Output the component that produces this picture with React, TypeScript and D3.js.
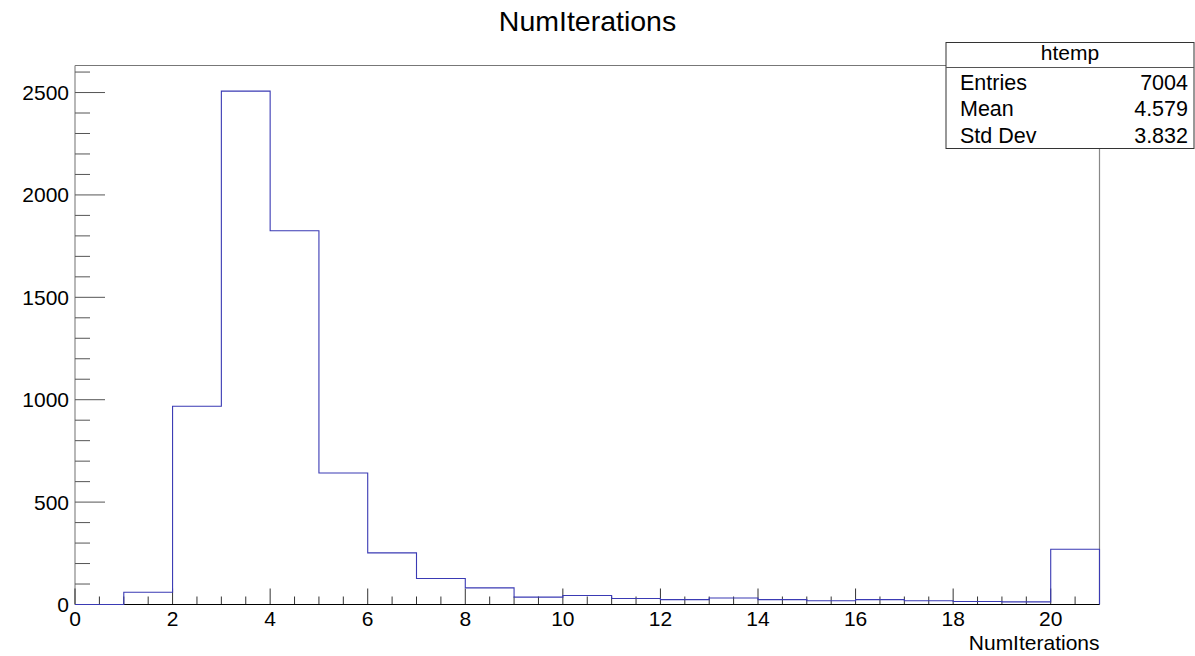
import React from "react";
import * as d3 from "d3";

const binEdges = [0, 1, 2, 3, 4, 5, 6, 7, 8, 9, 10, 11, 12, 13, 14, 15, 16, 17, 18, 19, 20, 21];
const binCounts = [0, 60, 968, 2507, 1825, 642, 252, 127, 81, 36, 44, 29, 24, 32, 24, 18, 24, 18, 15, 13, 270];
const xMajorTicks = [0, 2, 4, 6, 8, 10, 12, 14, 16, 18, 20];
const yMajorTicks = [0, 500, 1000, 1500, 2000, 2500];
const statLabels = ["Entries", "Mean", "Std Dev"];
const statValues = ["7004", "4.579", "3.832"];

const W = 1195;
const H = 656;
const L = 75, R = 1099.5, T = 65.5, B = 604.5;
const FONT = "'Liberation Sans', Arial, Helvetica, sans-serif";

export default function App() {
  const x = d3.scaleLinear().domain([0, 21]).range([L, R]);
  const y = d3.scaleLinear().domain([0, 2632]).range([B, T]);

  const pts: [number, number][] = [[x(0), y(0)]];
  binCounts.forEach((v, i) => {
    pts.push([x(binEdges[i]), y(v)]);
    pts.push([x(binEdges[i + 1]), y(v)]);
  });
  pts.push([x(21), y(0)]);
  const path = d3.line()(pts) || "";

  const xMinor = d3.range(0, 21.001, 0.5).filter((v) => v % 2 !== 0);
  const yMinor = d3.range(0, 2601, 100).filter((v) => v % 500 !== 0);

  return (
    <svg
      width={W}
      height={H}
      style={{ position: "absolute", left: 0, top: 0, background: "#fff" }}
      fontFamily={FONT}
    >
      <rect x={0} y={0} width={W} height={H} fill="#fff" />
      {/* title */}
      <text x={587.5} y={31} fontSize={28.5} textAnchor="middle" fill="#000">
        NumIterations
      </text>

      {/* frame */}
      <line x1={L} x2={R} y1={T} y2={T} stroke="#777" strokeWidth={1} />
      <line x1={R} x2={R} y1={T} y2={B} stroke="#888" strokeWidth={1.2} />
      <line x1={L} x2={L} y1={T} y2={B} stroke="#888" strokeWidth={1.2} />

      {/* y ticks */}
      {yMajorTicks.map((v) => (
        <g key={"ym" + v}>
          <line x1={L} x2={L + 30} y1={y(v)} y2={y(v)} stroke="#555" strokeWidth={1} />
          <text x={69} y={y(v)} dy="0.36em" fontSize={21} textAnchor="end" fill="#000">
            {v}
          </text>
        </g>
      ))}
      {yMinor.map((v) => (
        <line key={"yn" + v} x1={L} x2={L + 15} y1={y(v)} y2={y(v)} stroke="#555" strokeWidth={1} />
      ))}

      {/* x ticks */}
      {xMajorTicks.map((v) => (
        <g key={"xm" + v}>
          <line x1={x(v)} x2={x(v)} y1={B} y2={B - 16} stroke="#333" strokeWidth={1} />
          <text x={x(v)} y={626} fontSize={21} textAnchor="middle" fill="#000">
            {v}
          </text>
        </g>
      ))}
      {xMinor.map((v) => (
        <line key={"xn" + v} x1={x(v)} x2={x(v)} y1={B} y2={B - 8} stroke="#333" strokeWidth={1} />
      ))}
      <line x1={L} x2={R} y1={B} y2={B} stroke="#000" strokeWidth={1.2} />

      {/* histogram */}
      <path d={path} fill="none" stroke="#3a3ab4" strokeWidth={1.1} />

      {/* x axis title */}
      <text x={R} y={650} fontSize={21} textAnchor="end" fill="#000">
        NumIterations
      </text>

      {/* stats box */}
      <rect x={946} y={42.5} width={248} height={106} fill="#fff" stroke="#333" strokeWidth={1} />
      <line x1={946} x2={1194} y1={67.5} y2={67.5} stroke="#555" strokeWidth={1} />
      <text x={1070} y={60} fontSize={21} textAnchor="middle" fill="#000">
        htemp
      </text>
      {statLabels.map((s, i) => (
        <g key={s}>
          <text x={960} y={90 + i * 26.3} fontSize={21.5} fill="#000">
            {s}
          </text>
          <text x={1188} y={90 + i * 26.3} fontSize={21.5} textAnchor="end" fill="#000">
            {statValues[i]}
          </text>
        </g>
      ))}
    </svg>
  );
}
